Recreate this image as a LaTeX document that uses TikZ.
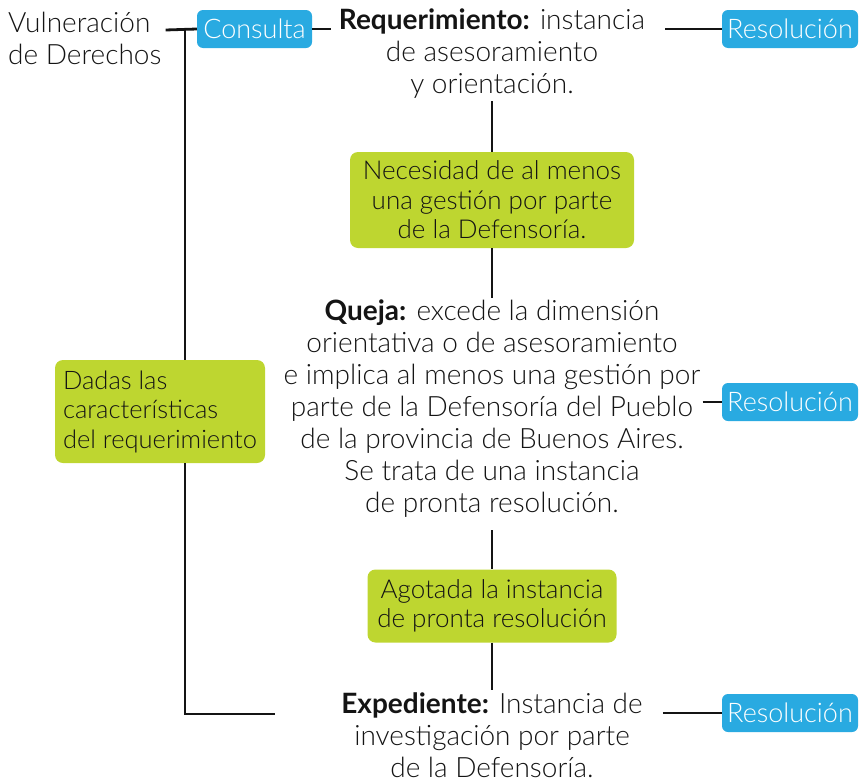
\documentclass[tikz,border=0pt]{standalone}
\usepackage{fontspec}
\setmainfont{Lato}[UprightFont=* Light, BoldFont=* Bold]
\usetikzlibrary{positioning}

\definecolor{celeste}{RGB}{41,170,225}
\definecolor{verde}{RGB}{190,214,48}
\definecolor{tinta}{RGB}{20,20,20}

\tikzset{
    bluebox/.style={fill=celeste, text=white, rounded corners=6pt, minimum height=38pt, inner xsep=4pt, font=\fontsize{27}{30}\selectfont},
    greenbox/.style={fill=verde, text=tinta, rounded corners=8pt, align=center, font=\fontsize{26}{29.5}\selectfont},
    texto/.style={text=tinta, align=center, inner sep=2pt},
    linea/.style={line width=2.8pt, tinta}
}

\begin{document}
\begin{tikzpicture}[x=1pt,y=-1pt,font=\fontsize{28}{32}\selectfont]
\useasboundingbox (0,0) rectangle (862,782);

%draw left side
    \node[texto, anchor=west, align=left, inner sep=0pt] (vul) at (8,38) {Vulneración\\de Derechos};
    \node[bluebox, minimum width=115pt] (cons) at (254.5,29) {Consulta};
    \node[greenbox, align=left, minimum width=210pt, minimum height=103pt, font=\fontsize{25.5}{29.5}\selectfont] (dadas) at (160,411.5) {Dadas las\\características\\del requerimiento};

%draw middle column
    \node[texto] (req) at (492,54) {\textbf{Requerimiento:} instancia\\de asesoramiento\\y orientación.};
    \node[greenbox, minimum width=284pt, minimum height=96pt] (nec) at (492,200) {Necesidad de al menos\\una gestión por parte\\de la Defensoría.};
    \node[texto] (queja) at (492,409) {\textbf{Queja:} excede la dimensión\\orientativa o de asesoramiento\\e implica al menos una gestión por\\parte de la Defensoría del Pueblo\\de la provincia de Buenos Aires.\\Se trata de una instancia\\de pronta resolución.};
    \node[greenbox, minimum width=249pt, minimum height=73pt] (agot) at (492,606) {Agotada la instancia\\de pronta resolución};
    \node[texto] (exped) at (492,735) {\textbf{Expediente:} Instancia de\\investigación por parte\\de la Defensoría.};

%draw right side
    \node[bluebox, minimum width=136pt] (res1) at (790,29) {Resolución};
    \node[bluebox, minimum width=136pt] (res2) at (790,402) {Resolución};
    \node[bluebox, minimum width=136pt] (res3) at (790,713) {Resolución};

%draw lines
    \coordinate (top) at (185,30);
    \coordinate (bend) at (185,714);
    \draw[linea] ([xshift=4pt]vul.east |- top) -- (cons.west);
    \draw[linea] (cons.east) -- ([xshift=-6pt]req.west |- cons.east);
    \draw[linea] (top) -- (dadas.north -| top);
    \draw[linea] (dadas.south -| top) -- (bend) -- ([xshift=-64pt]exped.west |- bend);
    \draw[linea] ([xshift=18pt]req.east |- res1.west) -- (res1.west);
    \draw[linea] (req.south) -- (nec.north);
    \draw[linea] (nec.south) -- (queja.north);
    \draw[linea, shorten <=10pt] (queja.south) -- (agot.north);
    \draw[linea] (agot.south) -- (exped.north);
    \draw[linea] (queja.east |- res2.west) -- (res2.west);
    \draw[linea] ([xshift=18pt]exped.east |- res3.west) -- (res3.west);

\end{tikzpicture}
\end{document}
